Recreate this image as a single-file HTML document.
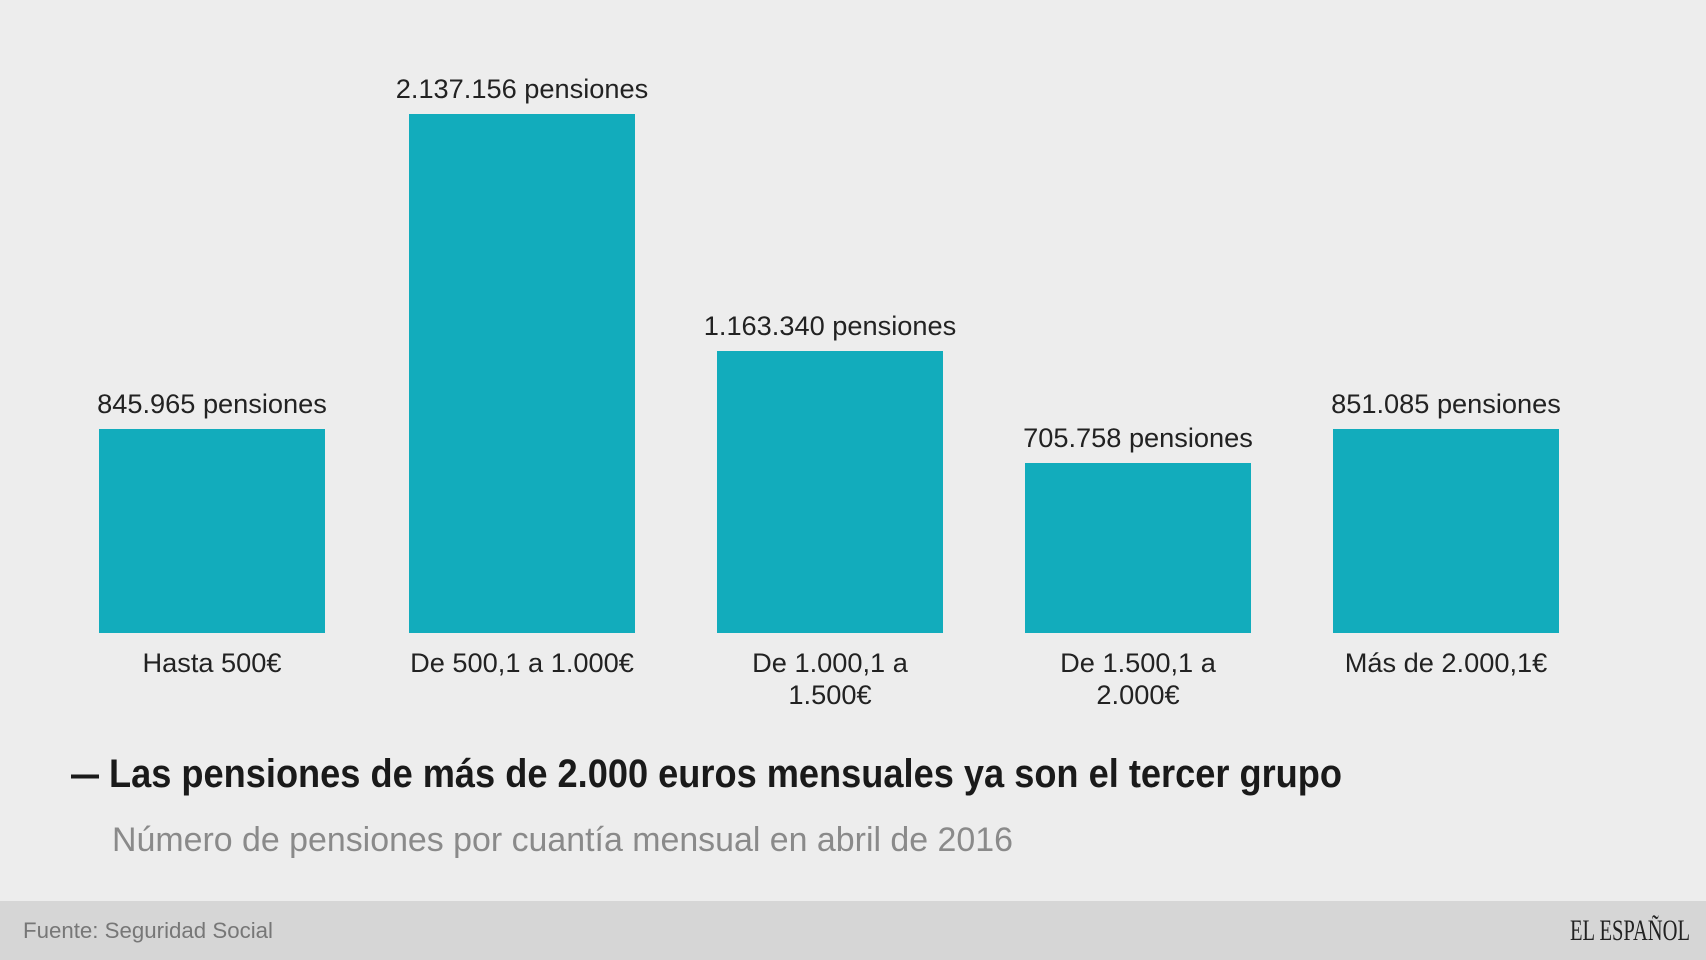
<!DOCTYPE html>
<html><head><meta charset="utf-8"><style>
html,body{margin:0;padding:0;background:#ededed;}
svg{display:block}
</style></head><body>
<svg width="1706" height="960" viewBox="0 0 1706 960" xmlns="http://www.w3.org/2000/svg">
<rect width="1706" height="960" fill="#ededed"/>
<g fill="#12acbc">
<rect x="99" y="429" width="226" height="204"/>
<rect x="409" y="114" width="226" height="519"/>
<rect x="717" y="351" width="226" height="282"/>
<rect x="1025" y="463" width="226" height="170"/>
<rect x="1333" y="429" width="226" height="204"/>
</g>
<g font-family="Liberation Sans, sans-serif" font-size="27.2" fill="#222" text-anchor="middle">
<text x="212" y="413">845.965 pensiones</text>
<text x="522" y="98">2.137.156 pensiones</text>
<text x="830" y="335">1.163.340 pensiones</text>
<text x="1138" y="447">705.758 pensiones</text>
<text x="1446" y="413">851.085 pensiones</text>
<text x="212" y="672">Hasta 500€</text>
<text x="522" y="672">De 500,1 a 1.000€</text>
<text x="830" y="672">De 1.000,1 a</text>
<text x="830" y="704">1.500€</text>
<text x="1138" y="672">De 1.500,1 a</text>
<text x="1138" y="704">2.000€</text>
<text x="1446" y="672">Más de 2.000,1€</text>
</g>
<text x="71" y="787" font-family="Liberation Sans, sans-serif" font-size="40" font-weight="bold" fill="#1a1a1a" textLength="28" lengthAdjust="spacingAndGlyphs">—</text>
<text x="109" y="787" font-family="Liberation Sans, sans-serif" font-size="40" font-weight="bold" fill="#1a1a1a" textLength="1233" lengthAdjust="spacingAndGlyphs">Las pensiones de más de 2.000 euros mensuales ya son el tercer grupo</text>
<text x="112" y="851" font-family="Liberation Sans, sans-serif" font-size="34" fill="#8a8a8a" textLength="901" lengthAdjust="spacingAndGlyphs">Número de pensiones por cuantía mensual en abril de 2016</text>
<rect x="0" y="901" width="1706" height="59" fill="#d6d6d6"/>
<text x="23" y="938" font-family="Liberation Sans, sans-serif" font-size="22" fill="#777" textLength="250" lengthAdjust="spacingAndGlyphs">Fuente: Seguridad Social</text>
<text x="1570" y="940" font-family="Liberation Serif, serif" font-size="30" fill="#222" textLength="120" lengthAdjust="spacingAndGlyphs">EL ESPAÑOL</text>
</svg>
</body></html>
